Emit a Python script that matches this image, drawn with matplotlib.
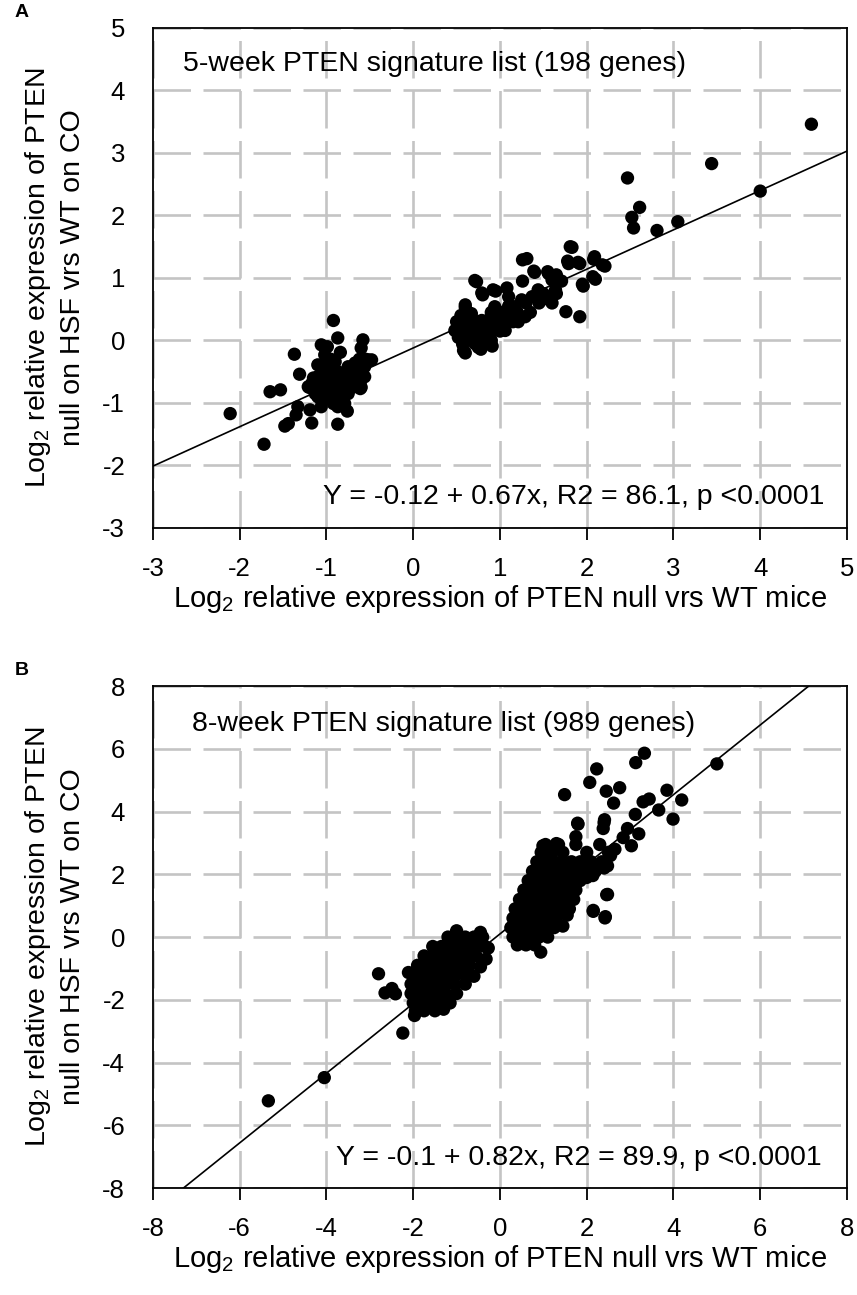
import numpy as np
import matplotlib
matplotlib.use("Agg")
import matplotlib.pyplot as plt

plt.rcParams['font.family'] = ['Liberation Sans', 'DejaVu Sans']
plt.rcParams['mathtext.fontset'] = 'custom'
plt.rcParams['mathtext.rm'] = 'Liberation Sans'
plt.rcParams['mathtext.it'] = 'Liberation Sans:italic'
plt.rcParams['lines.scale_dashes'] = False
plt.rcParams['axes.unicode_minus'] = False

# ---- panel A : 5-week list ----
wk5_x = [
    # low cluster
    -0.92, -0.87, -0.58, -1.06, -0.99, -0.84, -1.37, -0.60, -0.48, -0.67,
    -1.31, -1.65, -1.53, -2.11, -1.72, -1.48, -1.44, -1.35, -1.33, -1.17,
    -1.19, -0.87, -0.76, -0.61,
    -1.17, -1.10, -1.02, -0.94, -0.87, -0.79, -0.71, -0.63, -0.56, -0.52,
    -1.13, -1.06, -0.98, -0.90, -0.83, -0.75, -0.83, -0.92, -1.08, -1.00,
    -0.90, -0.81, -0.67, -0.60, -1.21, -1.10, -0.98, -1.02, -0.90, -0.63,
    -0.75, -0.56, -1.06, -0.87, -0.79,
    -1.05, -0.95, -0.75, -0.65, -1.15, -1.00, -0.90, -0.80, -0.70, -0.60,
    -1.20, -1.05, -0.95, -0.85, -0.70, -0.60, -1.10, -1.00, -0.90, -0.80,
    -0.95, -0.62, -0.55,
    # high cluster
    0.71, 0.79, 0.92, 1.08, 1.26, 1.31, 1.39, 1.55, 1.81, 1.78,
    1.90, 2.09, 2.18, 2.07, 1.95, 1.76, 1.92, 1.71, 1.64, 1.56,
    1.48, 1.37, 1.25, 1.17, 1.10, 1.29, 1.21, 1.02, 0.94, 0.60,
    0.67, 0.56, 0.52, 0.58, 0.75, 0.89, 0.71, 0.83, 0.64, 1.06,
    0.90, 0.79, 1.10, 1.44, 1.60, 1.65, 0.48, 0.56, 0.71, 0.83,
    0.73, 0.80, 0.95, 1.26, 1.40, 1.56, 1.79, 1.92, 2.08, 1.96,
    0.60, 0.57, 0.60, 0.78, 0.91,
    0.60, 0.70, 0.80, 0.90, 0.60, 0.70, 0.80, 0.90, 1.00,
    0.65, 0.75, 0.85, 0.95, 1.05, 1.15, 0.90, 1.00, 1.20, 1.35,
    1.30, 1.45, 1.60, 1.50, 1.65, 0.50, 0.55, 1.10,
    # upper outliers
    4.59, 3.44, 4.00, 2.47, 2.61, 2.52, 2.54, 2.81, 3.05, 1.83,
    2.10, 2.21,
]
wk5_y = [
    0.32, 0.04, 0.01, -0.07, -0.10, -0.19, -0.22, -0.12, -0.31, -0.36,
    -0.54, -0.82, -0.79, -1.17, -1.66, -1.37, -1.33, -1.19, -1.06, -1.32,
    -1.11, -1.34, -1.13, -0.77,
    -0.69, -0.58, -0.47, -0.42, -0.50, -0.58, -0.52, -0.47, -0.42, -0.31,
    -0.85, -0.95, -0.90, -0.79, -0.74, -0.85, -0.95, -1.01, -0.79, -0.69,
    -0.63, -0.66, -0.69, -0.63, -0.74, -0.39, -0.31, -0.23, -0.34, -0.36,
    -0.42, -0.58, -1.06, -1.06, -1.01,
    -0.45, -0.45, -0.45, -0.45, -0.60, -0.60, -0.60, -0.60, -0.60, -0.60,
    -0.75, -0.75, -0.75, -0.75, -0.75, -0.75, -0.90, -0.90, -0.90, -0.90,
    -0.30, -0.30, -0.30,
    0.96, 0.76, 0.81, 0.84, 0.95, 1.31, 1.11, 1.10, 1.50, 1.27,
    1.25, 1.34, 1.21, 1.02, 0.90, 0.46, 0.38, 0.95, 0.81, 0.70,
    0.65, 0.70, 0.65, 0.54, 0.43, 0.38, 0.30, 0.32, 0.54, 0.57,
    0.43, 0.22, 0.05, -0.16, -0.11, -0.03, 0.11, 0.22, 0.16, 0.16,
    0.38, 0.32, 0.70, 0.81, 0.97, 1.05, 0.16, 0.00, -0.05, 0.08,
    0.94, 0.73, 0.79, 1.29, 1.09, 1.07, 1.23, 1.23, 1.30, 0.87,
    0.53, -0.06, -0.20, -0.14, -0.09,
    0.00, 0.00, 0.00, 0.00, 0.15, 0.15, 0.15, 0.15, 0.15,
    0.30, 0.30, 0.30, 0.30, 0.30, 0.30, 0.45, 0.45, 0.45, 0.45,
    0.60, 0.60, 0.60, 0.75, 0.75, 0.30, 0.40, 0.55,
    3.46, 2.83, 2.39, 2.60, 2.13, 1.97, 1.80, 1.76, 1.90, 1.49,
    0.98, 1.19,
]
fit5 = [-0.12, 0.63]   # intercept, slope of the drawn line

# ---- panel B : 8-week list ----
wk8_x = [
    # lower cluster
    -1.00, -0.45,
    -1.20, -1.00, -0.80, -0.60, -0.40,
    -1.55, -1.35, -1.15, -0.95, -0.75, -0.55, -0.35, -0.27,
    -1.75, -1.55, -1.35, -1.15, -0.95, -0.75, -0.55, -0.32,
    -1.90, -1.70, -1.50, -1.30, -1.10, -0.90, -0.70, -0.45,
    -2.00, -1.80, -1.60, -1.40, -1.20, -1.00, -0.80, -0.60,
    -2.05, -1.85, -1.65, -1.45, -1.25, -1.05, -0.80,
    -2.05, -1.85, -1.65, -1.45, -1.25, -1.00,
    -2.00, -1.80, -1.60, -1.40, -1.15,
    -1.95, -1.75, -1.50, -1.30,
    -1.97,
    # upper cluster
    0.40, 0.60, 0.80,
    0.30, 0.50, 0.70, 0.90, 1.10,
    0.25, 0.45, 0.65, 0.85, 1.05, 1.25, 1.45,
    0.30, 0.50, 0.70, 0.90, 1.10, 1.30, 1.55,
    0.35, 0.55, 0.75, 0.95, 1.15, 1.35, 1.60,
    0.45, 0.65, 0.85, 1.05, 1.25, 1.45, 1.70,
    0.55, 0.75, 0.95, 1.15, 1.35, 1.55, 1.75,
    0.65, 0.85, 1.05, 1.25, 1.45, 1.65, 1.85, 2.00,
    0.75, 0.95, 1.15, 1.35, 1.55, 1.75, 1.95, 2.20, 2.40,
    0.85, 1.05, 1.25, 1.45, 1.65, 1.85, 2.10, 2.35, 2.55,
    0.95, 1.20, 1.45, 2.00, 2.50, 2.65,
    1.05, 1.35, 1.75, 2.30,
    1.75, 1.80, 2.40,
    # scattered points
    -5.34, -4.05, -2.24, -2.80, -2.65, -2.41, -2.49, -2.11, 0.94, 1.49,
    2.07, 2.23, 2.45, 2.76, 2.62, 3.13, 3.33, 5.00, 3.85, 4.19,
    3.66, 3.99, 3.30, 3.44, 3.12, 2.94, 3.20, 3.03, 2.84, 1.79,
    2.41, 2.38, 0.99, 1.30, 2.48, 2.14, 2.48, 2.15, 2.43, 0.64,
    2.46, 2.15, 2.42,
]
wk8_y = [
    0.20, 0.15,
    0.00, 0.00, 0.00, 0.00, 0.00,
    -0.30, -0.30, -0.30, -0.30, -0.30, -0.30, -0.30, -0.35,
    -0.60, -0.60, -0.60, -0.60, -0.60, -0.60, -0.60, -0.70,
    -0.90, -0.90, -0.90, -0.90, -0.90, -0.90, -0.90, -0.95,
    -1.20, -1.20, -1.20, -1.20, -1.20, -1.20, -1.20, -1.25,
    -1.50, -1.50, -1.50, -1.50, -1.50, -1.50, -1.50,
    -1.80, -1.80, -1.80, -1.80, -1.80, -1.80,
    -2.10, -2.10, -2.10, -2.10, -2.10,
    -2.35, -2.35, -2.35, -2.30,
    -2.50,
    -0.25, -0.25, -0.25,
    0.00, 0.00, 0.00, 0.00, 0.00,
    0.30, 0.30, 0.30, 0.30, 0.30, 0.30, 0.35,
    0.60, 0.60, 0.60, 0.60, 0.60, 0.60, 0.70,
    0.90, 0.90, 0.90, 0.90, 0.90, 0.90, 0.90,
    1.20, 1.20, 1.20, 1.20, 1.20, 1.20, 1.20,
    1.50, 1.50, 1.50, 1.50, 1.50, 1.50, 1.50,
    1.80, 1.80, 1.80, 1.80, 1.80, 1.80, 1.80, 1.90,
    2.10, 2.10, 2.10, 2.10, 2.10, 2.10, 2.10, 2.10, 2.20,
    2.40, 2.40, 2.40, 2.40, 2.40, 2.40, 2.40, 2.40, 2.60,
    2.70, 2.70, 2.70, 2.70, 2.70, 2.80,
    2.95, 2.95, 2.95, 2.95,
    3.20, 3.60, 3.65,
    -5.22, -4.48, -3.06, -1.17, -1.78, -1.81, -1.64, -1.13, -0.48, 4.54,
    4.93, 5.36, 4.65, 4.76, 4.27, 5.56, 5.86, 5.52, 4.68, 4.37,
    4.05, 3.76, 4.31, 4.40, 3.91, 3.46, 3.29, 2.91, 3.17, 3.63,
    3.74, 3.46, 2.91, 2.98, 2.27, 1.96, 1.36, 0.85, 0.65, -0.11,
    1.35, 0.82, 0.61,
]
fit8 = [0.10, 1.11]

ylab = 'Log$_2$ relative expression of PTEN\nnull on HSF vrs WT on CO'
xlab = 'Log$_2$ relative expression of PTEN null vrs WT mice'

panels = [
    dict(x=wk5_x, y=wk5_y, fit=fit5, lim=(-3, 5), xt=range(-3, 6), yt=range(-3, 6),
         yminor=[-1, 1, 3], letter='A', lety=0.9907,
         title='5-week PTEN signature list (198 genes)',
         eq='Y = -0.12 + 0.67x, R2 = 86.1, p <0.0001',
         pos=[0.1785, 0.5923, 0.8098, 0.3861], tpos=(0.043, 0.928), epos=(0.967, 0.061)),
    dict(x=wk8_x, y=wk8_y, fit=fit8, lim=(-8, 8), xt=range(-8, 9, 2), yt=range(-8, 9, 2),
         yminor=[-6, -2, 2, 6], letter='B', lety=0.4826,
         title='8-week PTEN signature list (989 genes)',
         eq='Y = -0.1 + 0.82x, R2 = 89.9, p <0.0001',
         pos=[0.1785, 0.0826, 0.8098, 0.3876], tpos=(0.056, 0.925), epos=(0.963, 0.060)),
]

fig = plt.figure(figsize=(8.57, 12.95), dpi=100)

for p in panels:
    ax = fig.add_axes(p['pos'])
    lo, hi = p['lim']
    ax.set_xlim(lo, hi)
    ax.set_ylim(lo, hi)
    ax.set_xticks(list(p['xt']))
    ax.set_yticks(list(p['yt']))
    ax.grid(True, color='#c4c4c4', linewidth=1.9, dashes=(27, 9))
    ax.set_axisbelow(True)

    xx = np.array([lo, hi])
    ax.plot(xx, p['fit'][0] + p['fit'][1] * xx, color='black', linewidth=1.2, zorder=2)
    ax.scatter(p['x'], p['y'], s=92, color='black', edgecolors='none', zorder=3)

    ax.tick_params(axis='x', direction='out', length=8.6, width=1.3, labelsize=18.5, pad=12)
    ax.tick_params(axis='y', which='major', length=0, labelsize=18.5, pad=20)
    ax.set_yticks(p['yminor'], minor=True)
    ax.tick_params(axis='y', which='minor', direction='in', length=5, width=1.3,
                   left=True, right=True)
    for s in ax.spines.values():
        s.set_linewidth(1.3)

    ax.set_xlabel(xlab, fontsize=21, labelpad=2)
    ax.set_ylabel(ylab, fontsize=20.5, labelpad=12, linespacing=1.35)

    ax.text(*p['tpos'], p['title'], transform=ax.transAxes, fontsize=20.5,
            ha='left', va='center')
    ax.text(*p['epos'], p['eq'], transform=ax.transAxes, fontsize=20.5,
            ha='right', va='center')
    fig.text(0.017, p['lety'], p['letter'], fontsize=14,
             fontweight='bold', ha='left', va='center')

fig.savefig('out.png', dpi=100)
